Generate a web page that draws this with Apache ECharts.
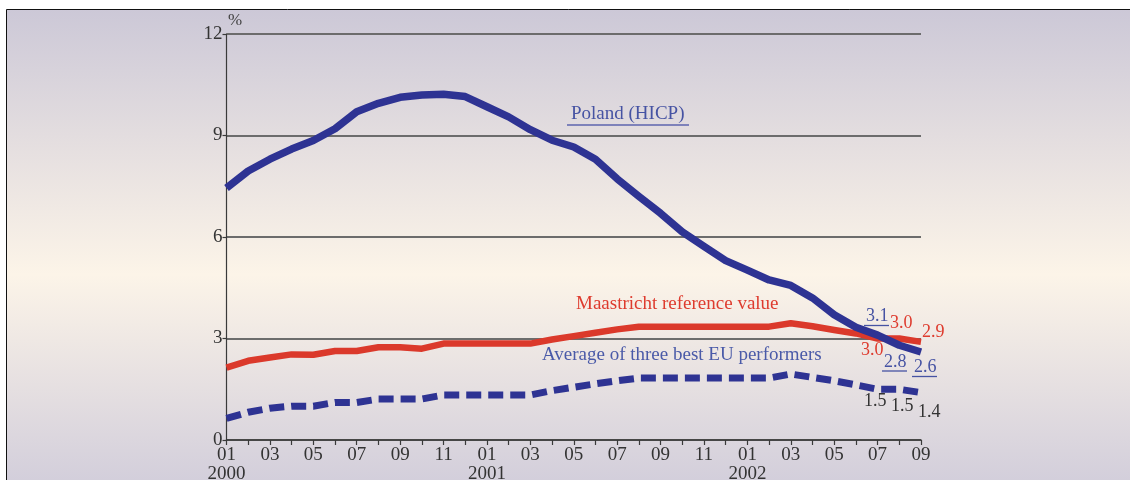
<!DOCTYPE html>
<html>
<head>
<meta charset="utf-8">
<script src="https://cdn.jsdelivr.net/npm/echarts@6/dist/echarts.min.js"></script>
<style>
html,body{margin:0;padding:0;background:#fff;}
#chart{width:1130px;height:480px;}
</style>
</head>
<body>
<div id="chart"></div>
<script>
// ---- data ----
const categories = [
  '2000-01','2000-02','2000-03','2000-04','2000-05','2000-06','2000-07','2000-08','2000-09','2000-10','2000-11','2000-12',
  '2001-01','2001-02','2001-03','2001-04','2001-05','2001-06','2001-07','2001-08','2001-09','2001-10','2001-11','2001-12',
  '2002-01','2002-02','2002-03','2002-04','2002-05','2002-06','2002-07','2002-08','2002-09'
];
const polandHICP = [
  7.45, 7.95, 8.3, 8.6, 8.85, 9.2, 9.7, 9.95, 10.13, 10.2, 10.22, 10.15,
  9.85, 9.55, 9.17, 8.86, 8.66, 8.3, 7.72, 7.2, 6.7, 6.15, 5.72, 5.3,
  5.02, 4.73, 4.57, 4.2, 3.7, 3.33, 3.1, 2.8, 2.6
];
const maastrichtRef = [
  2.14, 2.34, 2.44, 2.53, 2.52, 2.63, 2.63, 2.74, 2.74, 2.7, 2.85, 2.85,
  2.85, 2.85, 2.85, 2.97, 3.07, 3.17, 3.27, 3.35, 3.35, 3.35, 3.35, 3.35,
  3.35, 3.35, 3.45, 3.36, 3.25, 3.15, 3.0, 3.0, 2.9
];
const bestThreeAvg = [
  0.64, 0.82, 0.94, 1.0, 1.0, 1.11, 1.11, 1.21, 1.21, 1.21, 1.33, 1.33,
  1.33, 1.33, 1.33, 1.46, 1.56, 1.66, 1.75, 1.83, 1.83, 1.83, 1.83, 1.83,
  1.83, 1.83, 1.95, 1.85, 1.75, 1.63, 1.5, 1.5, 1.4
];
const yTicks = { min: 0, max: 12, interval: 3 };
const seriesNames = ['Poland (HICP)', 'Maastricht reference value', 'Average of three best EU performers'];
const unitLabel = '%';

// ---- styling ----
const FONT = '"Liberation Serif", "Times New Roman", serif';
const BLUE = '#2e3393';
const RED = '#db392b';
const TEXTBLUE = '#4653a3';
const AXIS = '#3a3a3a';

const chart = echarts.init(document.getElementById('chart'), null, {renderer: 'canvas'});

const last = categories.length - 1;
function fmt(v){ return v.toFixed(1); }

function txt(x, y, text, color, size, extra){
  return Object.assign({
    type: 'text', z: 100, silent: true,
    style: { x: x, y: y, text: text, fill: color, font: size + 'px ' + FONT,
             textAlign: 'left', textVerticalAlign: 'middle' }
  }, extra || {});
}
function uline(x1, x2, y, color){
  return { type: 'line', z: 100, silent: true,
    shape: {x1: x1, y1: y, x2: x2, y2: y},
    style: {stroke: color, lineWidth: 1.3} };
}

const option = {
  backgroundColor: '#ffffff',
  animation: false,
  grid: { left: 226.5, right: 209, top: 34, bottom: 40, containLabel: false, outerBoundsMode: 'none' },
  xAxis: {
    type: 'category',
    data: categories,
    boundaryGap: false,
    axisLine: { show: true, lineStyle: { color: AXIS, width: 1.5 } },
    axisTick: { show: true, interval: 0, length: 5, lineStyle: { color: AXIS, width: 1.2 } },
    axisLabel: {
      interval: 1,
      margin: 6,
      color: '#333',
      fontFamily: FONT,
      fontSize: 19,
      lineHeight: 19,
      formatter: function (v) {
        const parts = v.split('-');
        return parts[1] === '01' ? parts[1] + '\n' + parts[0] : parts[1];
      }
    },
    splitLine: { show: false }
  },
  yAxis: {
    type: 'value',
    min: yTicks.min, max: yTicks.max, interval: yTicks.interval,
    axisLine: { show: true, lineStyle: { color: AXIS, width: 1.2 } },
    axisTick: { show: true, length: 4, lineStyle: { color: AXIS, width: 1.2 } },
    axisLabel: { color: '#333', fontFamily: FONT, fontSize: 19, margin: 4 },
    splitLine: { show: true, lineStyle: { color: '#6c6c6c', width: 2 } }
  },
  series: [
    {
      name: seriesNames[0], type: 'line', data: polandHICP,
      symbol: 'none', smooth: false, z: 5,
      lineStyle: { color: BLUE, width: 7.5, cap: 'butt', join: 'round' }
    },
    {
      name: seriesNames[1], type: 'line', data: maastrichtRef,
      symbol: 'none', z: 4,
      lineStyle: { color: RED, width: 6.5, cap: 'butt', join: 'round' }
    },
    {
      name: seriesNames[2], type: 'line', data: bestThreeAvg,
      symbol: 'none', z: 4,
      lineStyle: { color: BLUE, width: 7, type: [15, 7], cap: 'butt', join: 'miter' }
    }
  ],
  graphic: [
    { type: 'rect', z: -100, silent: true,
      shape: { x: 6.5, y: 9.5, width: 1140, height: 490 },
      style: {
        stroke: '#111', lineWidth: 1,
        fill: new echarts.graphic.LinearGradient(0, 0, 0, 1, [
          { offset: 0, color: '#ccc8d7' },
          { offset: 0.54, color: '#fcf4e8' },
          { offset: 1, color: '#cfcbda' }
        ])
      }
    },
    txt(228, 21, unitLabel, '#444', 17),
    // series name annotations
    txt(571, 114, seriesNames[0], TEXTBLUE, 19),
    uline(567, 689, 125, '#5c64ae'),
    txt(576, 304, seriesNames[1], '#de3b2e', 19),
    txt(542, 355, seriesNames[2], '#4a5aa8', 19),
    // end-value annotations
    txt(866, 316, fmt(polandHICP[last - 2]), TEXTBLUE, 18),
    uline(864, 889, 325.5, TEXTBLUE),
    txt(884, 362, fmt(polandHICP[last - 1]), TEXTBLUE, 18),
    uline(882, 907, 371, TEXTBLUE),
    txt(914, 367.5, fmt(polandHICP[last]), TEXTBLUE, 18),
    uline(912, 937, 376.5, TEXTBLUE),
    txt(861, 350, fmt(maastrichtRef[last - 2]), '#de3b2e', 18),
    txt(890, 323.5, fmt(maastrichtRef[last - 1]), '#de3b2e', 18),
    txt(922, 332.5, fmt(maastrichtRef[last]), '#de3b2e', 18),
    txt(864, 401.5, fmt(bestThreeAvg[last - 2]), '#333', 18),
    txt(891, 406.5, fmt(bestThreeAvg[last - 1]), '#333', 18),
    txt(918, 412.5, fmt(bestThreeAvg[last]), '#333', 18)
  ]
};
chart.setOption(option);
</script>
</body>
</html>
